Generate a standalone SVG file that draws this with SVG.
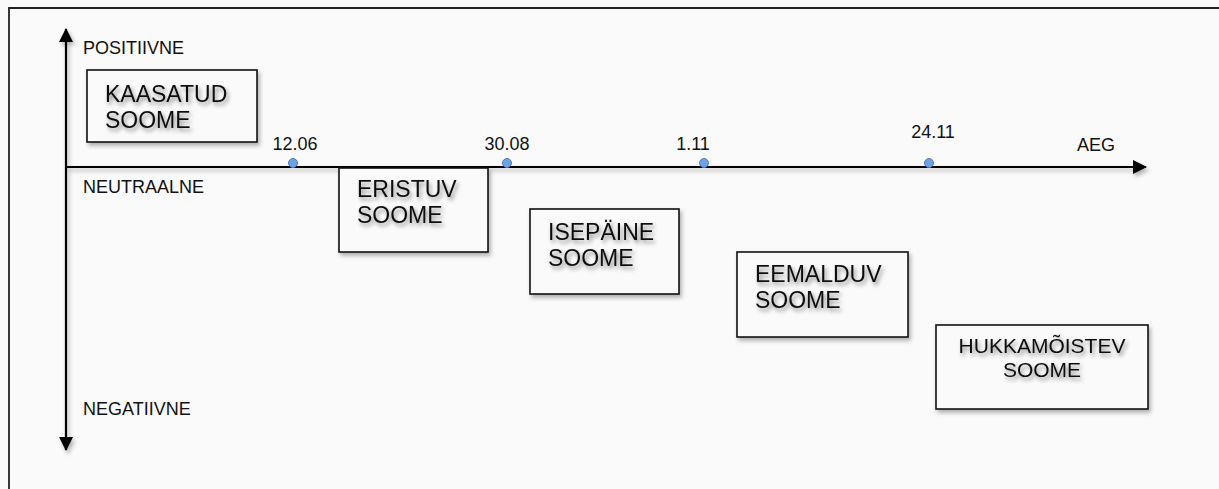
<svg xmlns="http://www.w3.org/2000/svg" width="1219" height="489" viewBox="0 0 1219 489">
<defs>
<style>
.bg{fill:#fafafa}
.frame{fill:none;stroke:#222;stroke-width:1.8}
.axis{stroke:#000;stroke-width:2.2;fill:none}
.box{fill:#fafafa;stroke:#111;stroke-width:1.6;filter:url(#sh)}
.lbl{font-family:"Liberation Sans",Arial,sans-serif;font-size:18px;fill:#111}
.big{font-family:"Liberation Sans",Arial,sans-serif;font-size:23px;fill:#111;filter:url(#tsh)}
.dot{fill:#6ea2e2;stroke:#4a7fc4;stroke-width:1}
</style>
<filter id="sh" x="-10%" y="-10%" width="130%" height="140%">
<feDropShadow dx="2" dy="3" stdDeviation="2" flood-color="#000" flood-opacity="0.3"/>
</filter>
<filter id="ash" filterUnits="userSpaceOnUse" x="0" y="0" width="1219" height="489">
<feDropShadow dx="2" dy="3" stdDeviation="2" flood-color="#000" flood-opacity="0.3"/>
</filter>
<filter id="tsh" x="-10%" y="-20%" width="130%" height="160%">
<feDropShadow dx="2" dy="3" stdDeviation="2" flood-color="#000" flood-opacity="0.45"/>
</filter>
<marker id="ah" viewBox="0 0 14 14" refX="13" refY="7" markerWidth="14" markerHeight="14" markerUnits="userSpaceOnUse" orient="auto">
<path d="M0,0 L14,7 L0,14 Z" fill="#000"/>
</marker>
</defs>
<rect class="bg" x="0" y="0" width="1219" height="489"/>
<path class="frame" d="M9,489 V8 H1219"/>
<g id="connectors" filter="url(#ash)">
<line class="axis" x1="66" y1="167" x2="1146" y2="167" marker-end="url(#ah)"/>
<line class="axis" x1="66" y1="167" x2="66" y2="29" marker-end="url(#ah)"/>
<line class="axis" x1="66" y1="167" x2="66" y2="450" marker-end="url(#ah)"/>
</g>
<g id="axis-labels">
<text class="lbl" x="83" y="54">POSITIIVNE</text>
<text class="lbl" x="83" y="193">NEUTRAALNE</text>
<text class="lbl" x="83" y="415">NEGATIIVNE</text>
<text class="lbl" x="1077" y="151">AEG</text>
</g>
<g id="box-kaasatud">
<rect class="box" x="87" y="70" width="170" height="72"/>
<text class="big" x="105" y="102">KAASATUD</text>
<text class="big" x="105" y="128">SOOME</text>
</g>
<g id="box-eristuv">
<rect class="box" x="339" y="168" width="149" height="84"/>
<text class="big" x="357" y="197">ERISTUV</text>
<text class="big" x="357" y="223">SOOME</text>
</g>
<g id="box-isepaine">
<rect class="box" x="530" y="209" width="149" height="85"/>
<text class="big" x="548" y="240">ISEPÄINE</text>
<text class="big" x="548" y="266">SOOME</text>
</g>
<g id="box-eemalduv">
<rect class="box" x="737" y="252" width="171" height="85"/>
<text class="big" x="755" y="282">EEMALDUV</text>
<text class="big" x="755" y="308">SOOME</text>
</g>
<g id="box-hukkamoistev">
<rect class="box" x="936" y="325" width="212" height="84"/>
<text class="big" x="1042" y="353" text-anchor="middle" style="font-size:21px">HUKKAMÕISTEV</text>
<text class="big" x="1042" y="377" text-anchor="middle" style="font-size:21px">SOOME</text>
</g>
<g id="d-1206">
<circle class="dot" cx="293" cy="163" r="4.5"/>
<text class="lbl" x="295" y="150" text-anchor="middle">12.06</text>
</g>
<g id="d-3008">
<circle class="dot" cx="507" cy="163" r="4.5"/>
<text class="lbl" x="507" y="150" text-anchor="middle">30.08</text>
</g>
<g id="d-111">
<circle class="dot" cx="704" cy="163" r="4.5"/>
<text class="lbl" x="693" y="150" text-anchor="middle">1.11</text>
</g>
<g id="d-2411">
<circle class="dot" cx="929" cy="163" r="4.5"/>
<text class="lbl" x="933" y="138" text-anchor="middle">24.11</text>
</g>
</svg>
